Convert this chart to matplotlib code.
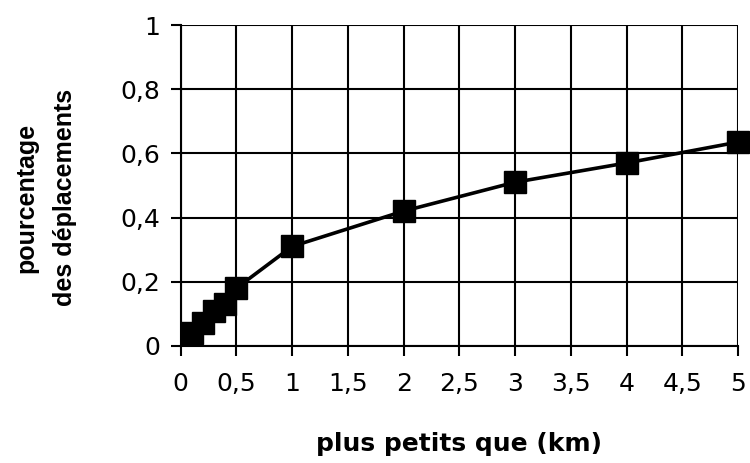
import numpy as np
import matplotlib.pyplot as plt
from matplotlib.ticker import FuncFormatter

plt.rcParams['font.family'] = ['DejaVu Sans']

# distance thresholds (km) and share of trips shorter than that
distance_km = [0.1, 0.2, 0.3, 0.4, 0.5, 1, 2, 3, 4, 5]
share = [0.04, 0.07, 0.11, 0.13, 0.18, 0.31, 0.42, 0.51, 0.57, 0.635]

figure = plt.figure(figsize=(7.5, 4.63), dpi=100)
axes = figure.add_axes([0.241, 0.253, 0.743, 0.693])

axes.plot(distance_km, share, color='black', linewidth=2.6,
          marker='s', markersize=16, clip_on=False, zorder=3)

axes.set_xlim(0, 5)
axes.set_ylim(0, 1)
axes.set_xticks(np.arange(0, 5.01, 0.5))
axes.set_yticks(np.arange(0, 1.01, 0.2))


def comma_format(value, pos):
    text = '%g' % round(value, 2)
    return text.replace('.', ',')


axes.xaxis.set_major_formatter(FuncFormatter(comma_format))
axes.yaxis.set_major_formatter(FuncFormatter(comma_format))

axes.grid(True, color='black', linewidth=1.5)
axes.set_axisbelow(True)
for side in axes.spines.values():
    side.set_linewidth(1.5)
    side.set_color('black')
axes.spines['top'].set_visible(False)
axes.spines['right'].set_visible(False)

axes.tick_params(axis='both', direction='out', length=7, width=1.5,
                 labelsize=18, colors='black')
axes.tick_params(axis='x', pad=12)
axes.tick_params(axis='y', pad=8)

axes.set_xlabel('plus petits que (km)', fontsize=18, fontweight='bold',
                labelpad=26)
axes.set_ylabel('pourcentage\ndes déplacements', fontsize=18,
                family='Liberation Sans', fontweight='bold',
                linespacing=1.75)
axes.yaxis.set_label_coords(-0.187, 0.462)

plt.savefig('out.png', dpi=100)
